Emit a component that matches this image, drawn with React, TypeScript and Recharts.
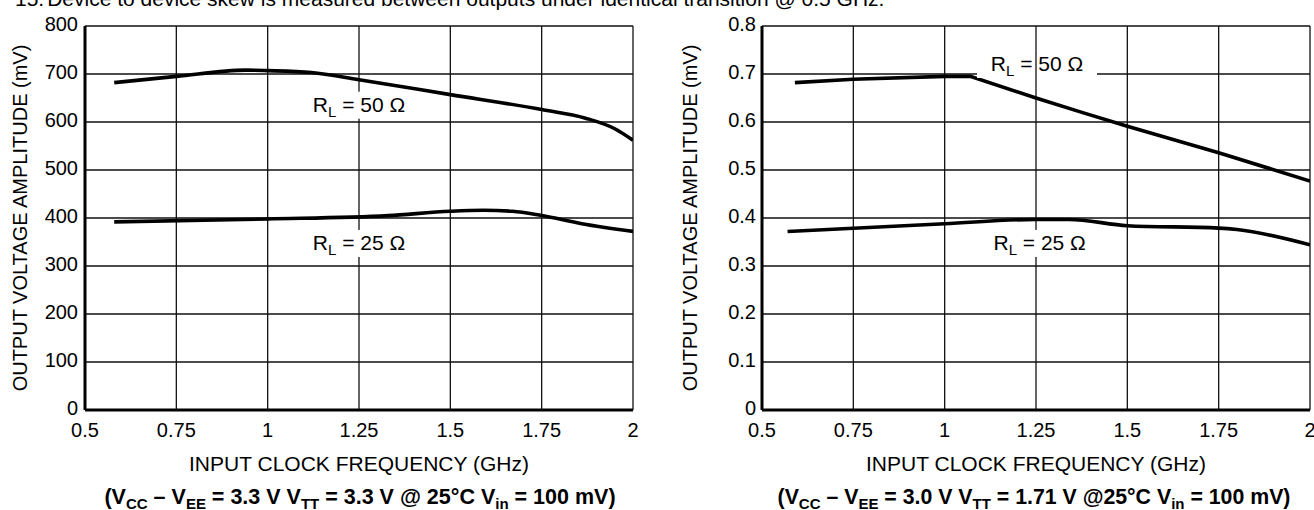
import React from 'react';
import {CartesianGrid, Line, LineChart, ReferenceDot, XAxis, YAxis} from 'recharts';

// axis ticks
const freqTicks = [0.5, 0.75, 1, 1.25, 1.5, 1.75, 2];
const leftAmpTicks = [0, 100, 200, 300, 400, 500, 600, 700, 800];
const rightAmpTicks = [0, 0.1, 0.2, 0.3, 0.4, 0.5, 0.6, 0.7, 0.8];

// left panel: VCC-VEE = 3.3 V (mV)
const leftFreq50 = [0.58, 0.75, 0.94, 1.0, 1.12, 1.25, 1.5, 1.75, 1.87, 1.95, 2.0];
const leftAmp50 = [682, 695, 708, 707, 703, 688, 657, 626, 608, 586, 562];
const leftFreq25 = [0.58, 1.0, 1.33, 1.5, 1.59, 1.67, 1.75, 1.86, 2.0];
const leftAmp25 = [392, 398, 405, 414, 416, 414, 405, 388, 372];

// right panel: VCC-VEE = 3.0 V
const rightFreq50 = [0.59, 0.75, 1.0, 1.07, 1.25, 1.38, 1.5, 1.75, 2.0];
const rightAmp50 = [0.682, 0.689, 0.695, 0.695, 0.65, 0.619, 0.591, 0.536, 0.477];
const rightFreq25 = [0.57, 1.0, 1.25, 1.34, 1.5, 1.75, 1.8, 2.0];
const rightAmp25 = [0.372, 0.388, 0.397, 0.397, 0.384, 0.379, 0.376, 0.344];

// curve tags (RL = ...), anchored in data units
const leftTagFreq = [1.25, 1.25];
const leftTagAmp = [636, 348];
const rightTagFreq = [1.25, 1.26];
const rightTagAmp = [0.721, 0.348];
const tagOhms = ['50', '25'];

const zip = (xs: number[], ys: number[]) => xs.map((f, i) => ({f, v: ys[i]}));

const FONT = '"Liberation Sans", Arial, sans-serif';

const YTick = ({x, y, payload}: any) => (
  <text x={x} y={y + 5} textAnchor="end" fontSize={20} fontFamily={FONT} fill="#000">{payload.value}</text>
);
const XTick = ({x, y, payload}: any) => (
  <text x={x} y={y + 27} textAnchor="middle" fontSize={20} fontFamily={FONT} fill="#000">{payload.value}</text>
);

function tagShape(ohms: string, opts: {w: number; dx: number; boxDx?: number; keepLine?: boolean}) {
  return (props: any) => {
    const {cx, cy} = props;
    const bx = cx + opts.dx + (opts.boxDx ?? 0);
    return (
      <g>
        <rect x={bx - opts.w / 2} y={cy - 13} width={opts.w} height={27} fill="#fff" />
        {opts.keepLine && <line x1={cx} x2={cx} y1={cy - 13} y2={cy + 14} stroke="#111" strokeWidth={1.3} />}
        <text x={cx + opts.dx} y={cy + 7.5} textAnchor="middle" fontSize={21} fontFamily={FONT} fill="#000">
          R<tspan fontSize={15} dy={5}>L</tspan><tspan dy={-5}>{` = ${ohms} Ω`}</tspan>
        </text>
      </g>
    );
  };
}

function Panel(props: {
  left: number;
  axisW: number;
  ticks: number[];
  max: number;
  tickGap: number;
  s50: {f: number; v: number}[];
  s25: {f: number; v: number}[];
  tagF: number[];
  tagV: number[];
  right?: boolean;
}) {
  const {left, axisW, ticks, max, tickGap, s50, s25, tagF, tagV, right} = props;
  return (
    <div style={{position: 'absolute', left, top: 0}}>
      <LineChart width={660} height={440} margin={{top: 26, right: 660 - axisW - 548, left: 0, bottom: 0}}>
        <CartesianGrid stroke="#111" strokeWidth={1.3} verticalValues={freqTicks} horizontalValues={ticks} />
        <XAxis
          dataKey="f"
          type="number"
          domain={[0.5, 2]}
          ticks={freqTicks}
          height={30}
          tickSize={0}
          tickMargin={0}
          tick={<XTick />}
          axisLine={{stroke: '#000', strokeWidth: 3}}
          tickLine={false}
          allowDataOverflow
        />
        <YAxis
          type="number"
          domain={[0, max]}
          ticks={ticks}
          width={axisW}
          tickSize={0}
          tickMargin={tickGap}
          tick={<YTick />}
          axisLine={{stroke: '#000', strokeWidth: 3}}
          tickLine={false}
          allowDataOverflow
        />
        <Line data={s50} dataKey="v" type={right ? 'linear' : 'monotone'} stroke="#000" strokeWidth={3.6} dot={false} isAnimationActive={false} />
        <Line data={s25} dataKey="v" type="monotone" stroke="#000" strokeWidth={3.6} dot={false} isAnimationActive={false} />
        {tagF.map((f, i) => (
          <ReferenceDot
            key={i}
            x={f}
            y={tagV[i]}
            r={0}
            shape={tagShape(tagOhms[i], right && i === 0 ? {w: 120, dx: 1, boxDx: 0, keepLine: true} : {w: 104, dx: 0})}
          />
        ))}
      </LineChart>
    </div>
  );
}

const Sub = ({children}: {children: React.ReactNode}) => (
  <span style={{fontSize: 15, position: 'relative', top: 5}}>{children}</span>
);

const abs = (cx: number, cy: number, extra: React.CSSProperties = {}): React.CSSProperties => ({
  position: 'absolute',
  left: cx,
  top: cy,
  transform: 'translate(-50%, -50%)',
  whiteSpace: 'nowrap',
  ...extra,
});

export default function App() {
  return (
    <div style={{position: 'absolute', left: 0, top: 0, width: 1314, height: 510, overflow: 'hidden', background: '#fff', fontFamily: FONT, color: '#000'}}>
      <div style={{position: 'absolute', left: 15, top: -12, fontSize: 21, lineHeight: '21px', whiteSpace: 'nowrap'}}>
        15.<span style={{marginLeft: 3}}>Device to device skew is measured between outputs under identical transition @ 0.5 GHz.</span>
      </div>

      <Panel left={0} axisW={85} ticks={leftAmpTicks} max={800} tickGap={7} s50={zip(leftFreq50, leftAmp50)} s25={zip(leftFreq25, leftAmp25)} tagF={leftTagFreq} tagV={leftTagAmp} />
      <Panel left={676} axisW={86} ticks={rightAmpTicks} max={0.8} tickGap={6} s50={zip(rightFreq50, rightAmp50)} s25={zip(rightFreq25, rightAmp25)} tagF={rightTagFreq} tagV={rightTagAmp} right />

      <div style={abs(20, 218, {fontSize: 20, transform: 'translate(-50%, -50%) rotate(-90deg)'})}>OUTPUT VOLTAGE AMPLITUDE (mV)</div>
      <div style={abs(690, 218, {fontSize: 20, transform: 'translate(-50%, -50%) rotate(-90deg)'})}>OUTPUT VOLTAGE AMPLITUDE (mV)</div>

      <div style={abs(359, 464, {fontSize: 21})}>INPUT CLOCK FREQUENCY (GHz)</div>
      <div style={abs(1036, 464, {fontSize: 21})}>INPUT CLOCK FREQUENCY (GHz)</div>

      <div style={abs(360, 497, {fontSize: 21.5, fontWeight: 'bold'})}>
        (V<Sub>CC</Sub> – V<Sub>EE</Sub> = 3.3 V V<Sub>TT</Sub> = 3.3 V @ 25°C V<Sub>in</Sub> = 100 mV)
      </div>
      <div style={abs(1034, 497, {fontSize: 21.3, fontWeight: 'bold'})}>
        (V<Sub>CC</Sub> – V<Sub>EE</Sub> = 3.0 V V<Sub>TT</Sub> = 1.71 V @25°C V<Sub>in</Sub> = 100 mV)
      </div>
    </div>
  );
}
